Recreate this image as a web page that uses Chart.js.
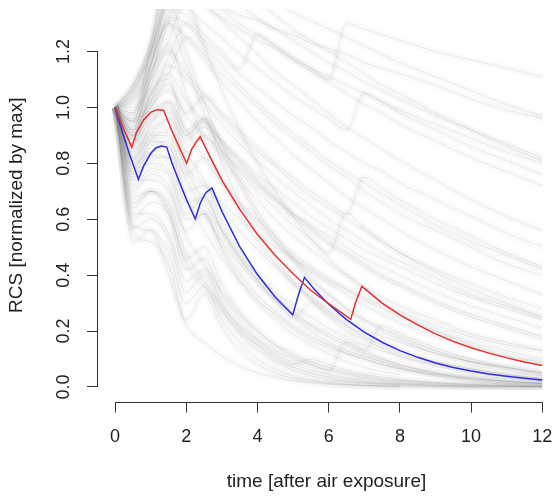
<!DOCTYPE html>
<html>
<head>
<meta charset="utf-8">
<script src="https://cdn.jsdelivr.net/npm/chart.js@4.4.0/dist/chart.umd.min.js"></script>
<style>
  body { margin: 0; background: #fff; }
</style>
</head>
<body>
<canvas id="rcsChart" width="555" height="497"></canvas>
<script>

  // TIME GRID FOR THE GRAY RUNS

var grayTimes = [0,0.5,1,1.5,2,2.5,3,3.5,4,4.5,5,5.5,6,6.5,7,7.5,8,9,10,11,12];

  // slow runs (go off the top)
var gray01 = [1,1.08,1.22,1.45,1.42,1.39,1.36,1.33,1.31,1.28,1.26,1.23,1.21,1.19,1.16,1.14,1.12,1.08,1.03,0.99,0.96];
var gray02 = [1,1.06,1.20,1.38,1.40,1.36,1.32,1.28,1.24,1.21,1.17,1.14,1.11,1.08,1.05,1.02,0.99,0.94,0.89,0.84,0.80];
var gray03 = [1,1.04,1.16,1.34,1.45,1.38,1.31,1.25,1.19,1.13,1.08,1.03,0.98,0.93,0.89,0.85,0.81,0.74,0.67,0.61,0.56];
var gray04 = [1,1.02,1.12,1.30,1.50,1.48,1.42,1.37,1.32,1.28,1.24,1.20,1.16,1.13,1.09,1.06,1.03,0.97,0.92,0.87,0.82];
var gray05 = [1,1.00,1.08,1.24,1.42,1.55,1.50,1.44,1.38,1.33,1.28,1.24,1.20,1.16,1.12,1.08,1.05,0.98,0.92,0.86,0.81];
var gray06 = [1,1.07,1.20,1.40,1.36,1.30,1.25,1.19,1.14,1.09,1.04,1.00,0.96,0.92,1.05,1.02,0.98,0.92,0.86,0.81,0.76];
var gray07 = [1,0.98,1.10,1.32,1.30,1.22,1.15,1.08,1.02,0.96,0.91,0.86,0.81,0.77,0.73,0.69,0.65,0.58,0.52,0.47,0.42];
var gray08 = [1,1.05,1.19,1.36,1.33,1.26,1.20,1.14,1.26,1.22,1.17,1.13,1.09,1.05,1.01,0.98,0.94,0.88,0.82,0.77,0.72];
var gray09 = [1,0.96,1.02,1.18,1.30,1.24,1.18,1.12,1.07,1.02,0.97,0.93,0.88,0.84,0.80,0.77,0.73,0.67,0.61,0.55,0.50];
var gray10 = [1,1.03,1.15,1.42,1.60,1.55,1.50,1.46,1.42,1.38,1.34,1.31,1.28,1.25,1.22,1.19,1.16,1.11,1.06,1.01,0.97];
var gray11 = [1,1.08,1.24,1.50,1.45,1.40,1.35,1.30,1.26,1.22,1.18,1.14,1.10,1.30,1.28,1.26,1.24,1.20,1.17,1.14,1.11];
var gray12 = [1,0.95,1.00,1.12,1.25,1.19,1.12,1.06,1.00,0.94,0.89,0.84,0.79,0.75,0.70,0.66,0.62,0.56,0.50,0.44,0.40];

  // medium runs
var gray13 = [1,0.92,1.02,1.08,0.98,1.04,0.97,0.90,0.84,0.79,0.73,0.68,0.64,0.60,0.56,0.52,0.48,0.42,0.37,0.32,0.28];
var gray14 = [1,0.88,0.98,1.02,0.90,0.96,0.88,0.81,0.74,0.68,0.62,0.57,0.52,0.48,0.44,0.40,0.37,0.31,0.26,0.22,0.18];
var gray15 = [1,0.90,1.05,1.12,1.02,0.95,0.88,0.82,0.76,0.71,0.66,0.61,0.57,0.53,0.49,0.46,0.43,0.37,0.32,0.28,0.24];
var gray16 = [1,0.85,0.92,0.95,0.84,0.90,0.82,0.74,0.67,0.60,0.54,0.49,0.44,0.40,0.36,0.32,0.29,0.24,0.19,0.16,0.13];
var gray17 = [1,0.93,1.10,1.20,1.12,1.05,0.98,0.92,0.86,0.80,0.75,0.70,0.66,0.62,0.75,0.71,0.67,0.60,0.54,0.48,0.43];
var gray18 = [1,0.82,0.88,0.86,0.76,0.82,0.74,0.66,0.60,0.54,0.48,0.43,0.39,0.35,0.31,0.28,0.25,0.20,0.16,0.13,0.10];
var gray19 = [1,0.90,1.00,1.06,0.97,0.90,0.84,0.78,0.72,0.67,0.62,0.58,0.54,0.50,0.46,0.43,0.40,0.34,0.29,0.25,0.21];
var gray20 = [1,0.87,0.95,0.98,0.88,0.93,0.85,0.77,0.70,0.64,0.58,0.53,0.48,0.62,0.57,0.52,0.48,0.41,0.35,0.30,0.25];
var gray21 = [1,0.95,1.15,1.30,1.25,1.17,1.09,1.02,0.95,0.89,0.83,0.78,0.73,0.68,0.64,0.60,0.56,0.49,0.43,0.38,0.33];
var gray22 = [1,0.91,1.04,1.15,1.10,1.02,0.94,0.87,0.81,0.75,0.70,0.65,0.60,0.56,0.52,0.48,0.45,0.39,0.33,0.29,0.25];
var gray23 = [1,0.84,0.90,0.90,0.79,0.72,0.66,0.60,0.55,0.50,0.46,0.42,0.38,0.35,0.32,0.29,0.27,0.22,0.18,0.15,0.13];
var gray24 = [1,0.89,0.97,1.00,0.90,0.95,0.87,0.80,0.73,0.67,0.61,0.56,0.51,0.47,0.43,0.39,0.36,0.30,0.25,0.21,0.17];

  // quicker runs
var gray25 = [1,0.80,0.84,0.86,0.70,0.72,0.60,0.49,0.40,0.33,0.27,0.22,0.18,0.15,0.12,0.10,0.08,0.05,0.035,0.02,0.015];
var gray26 = [1,0.78,0.88,0.92,0.78,0.66,0.56,0.47,0.40,0.34,0.29,0.25,0.21,0.18,0.15,0.13,0.11,0.08,0.06,0.04,0.03];
var gray27 = [1,0.76,0.80,0.78,0.62,0.68,0.56,0.46,0.38,0.31,0.25,0.30,0.25,0.20,0.17,0.14,0.11,0.075,0.05,0.035,0.023];
var gray28 = [1,0.81,0.90,0.96,0.84,0.74,0.64,0.56,0.49,0.43,0.37,0.32,0.28,0.24,0.21,0.18,0.16,0.12,0.09,0.07,0.05];
var gray29 = [1,0.74,0.74,0.70,0.56,0.62,0.50,0.41,0.33,0.27,0.22,0.18,0.15,0.12,0.10,0.08,0.065,0.04,0.025,0.015,0.01];
var gray30 = [1,0.79,0.86,0.88,0.74,0.62,0.52,0.44,0.37,0.31,0.26,0.22,0.19,0.16,0.13,0.22,0.19,0.14,0.10,0.07,0.05];
var gray31 = [1,0.77,0.83,0.82,0.67,0.56,0.46,0.38,0.31,0.26,0.21,0.17,0.14,0.12,0.10,0.08,0.065,0.045,0.03,0.02,0.013];
var gray32 = [1,0.82,0.94,1.02,0.92,0.82,0.73,0.65,0.58,0.52,0.46,0.41,0.37,0.33,0.29,0.26,0.23,0.18,0.14,0.11,0.09];

  // fast runs (lower fan)
var gray33 = [1,0.62,0.62,0.55,0.38,0.42,0.30,0.21,0.15,0.10,0.07,0.05,0.035,0.025,0.018,0.012,0.009,0.005,0.003,0.002,0.001];
var gray34 = [1,0.58,0.56,0.48,0.30,0.36,0.24,0.16,0.10,0.065,0.04,0.025,0.016,0.01,0.006,0.004,0.003,null,null,null,null];
var gray35 = [1,0.66,0.70,0.64,0.46,0.50,0.37,0.27,0.20,0.15,0.11,0.08,0.06,0.045,0.033,0.025,0.018,0.01,0.006,0.003,0.002];
var gray36 = [1,0.55,0.52,0.44,0.24,0.33,0.21,0.13,0.08,0.05,0.03,0.02,0.012,0.008,0.005,0.003,0.002,null,null,null,null];
var gray37 = [1,0.70,0.76,0.72,0.54,0.44,0.34,0.26,0.20,0.15,0.12,0.09,0.07,0.05,0.04,0.03,0.024,0.015,0.009,0.006,0.004];
var gray38 = [1,0.52,0.56,0.40,0.22,0.16,0.11,0.075,0.05,0.035,0.022,0.015,0.01,0.007,0.005,0.003,0.002,0.001,0,0,0];
var gray39 = [1,0.60,0.66,0.62,0.44,0.36,0.27,0.20,0.15,0.11,0.08,0.10,0.08,0.06,0.045,0.035,0.026,0.015,0.008,0.005,0.003];
var gray40 = [1,0.68,0.70,0.62,0.42,0.46,0.33,0.24,0.17,0.12,0.085,0.06,0.045,0.032,0.023,0.016,0.012,0.006,0.003,0.002,0.001];
var gray41 = [1,0.72,0.78,0.76,0.60,0.62,0.49,0.38,0.30,0.24,0.19,0.15,0.12,0.09,0.07,0.055,0.045,null,null,null,null];
var gray42 = [1,0.64,0.70,0.66,0.48,0.38,0.29,0.22,0.17,0.13,0.10,0.08,0.06,0.16,0.13,0.10,0.08,0.05,0.03,0.02,0.012];
var gray43 = [1,0.57,0.60,0.53,0.34,0.40,0.28,0.19,0.13,0.09,0.06,0.04,0.028,0.02,0.014,0.01,0.007,0.004,0.002,0.001,0.001];
var gray44 = [1,0.75,0.82,0.82,0.66,0.68,0.56,0.46,0.38,0.31,0.25,0.20,0.16,0.13,0.11,0.09,0.07,0.045,0.03,0.02,0.013];

  // high peak, then quick fall
var gray45 = [1,0.90,1.12,1.22,1.05,0.88,0.74,0.62,0.52,0.44,0.37,0.31,0.26,0.22,0.18,0.15,0.13,0.09,0.065,0.045,0.03];
var gray46 = [1,0.95,1.20,1.38,1.20,1.02,0.87,0.74,0.63,0.54,0.46,0.39,0.33,0.28,0.24,0.21,0.18,0.13,0.09,0.07,0.05];
var gray47 = [1,0.86,1.05,1.10,0.92,0.96,0.80,0.66,0.55,0.46,0.38,0.32,0.27,0.22,0.19,0.16,0.13,0.09,0.065,0.045,0.03];
var gray48 = [1,0.98,1.22,1.50,1.40,1.22,1.06,0.92,0.80,0.70,0.61,0.53,0.46,0.40,0.35,0.30,0.26,0.20,0.15,0.11,0.085];
var gray49 = [1,0.92,1.15,1.30,1.15,0.98,0.84,0.72,0.61,0.52,0.45,0.38,0.33,0.28,0.24,0.20,0.17,0.12,0.09,0.065,0.045];

var grayRuns = [gray01,gray02,gray03,gray04,gray05,gray06,gray07,gray08,gray09,gray10,
  gray11,gray12,gray13,gray14,gray15,gray16,gray17,gray18,gray19,gray20,
  gray21,gray22,gray23,gray24,gray25,gray26,gray27,gray28,gray29,gray30,
  gray31,gray32,gray33,gray34,gray35,gray36,gray37,gray38,gray39,gray40,
  gray41,gray42,gray43,gray44,gray45,gray46,gray47,gray48,gray49];

  // RED RUN

var redTimes  = [0,0.25,0.47,0.6,0.8,1.0,1.17,1.36,1.6,1.8,2.01,2.15,2.3,2.39,2.6,3.0,3.5,4.0,4.5,5.0,5.5,6.0,6.3,6.62,6.75,6.93,7.5,8.0,8.5,9.0,9.5,10,10.5,11,11.5,12];
var redValues = [1.00,0.92,0.858,0.91,0.955,0.982,0.992,0.99,0.915,0.858,0.80,0.85,0.88,0.895,0.84,0.74,0.635,0.545,0.47,0.405,0.345,0.298,0.271,0.242,0.30,0.36,0.30,0.258,0.222,0.19,0.163,0.14,0.121,0.104,0.089,0.077];

  // BLUE RUN

var blueTimes  = [0,0.2,0.4,0.655,0.8,1.0,1.15,1.3,1.45,1.6,1.8,2.0,2.25,2.4,2.55,2.72,3.0,3.5,4.0,4.5,4.99,5.15,5.32,5.6,6.0,6.5,7.0,7.5,8.0,8.5,9.0,9.5,10,10.5,11,11.5,12];
var blueValues = [1,0.914,0.834,0.743,0.79,0.835,0.856,0.862,0.858,0.80,0.735,0.672,0.601,0.66,0.695,0.712,0.628,0.502,0.402,0.321,0.258,0.33,0.392,0.349,0.296,0.241,0.196,0.16,0.13,0.106,0.086,0.07,0.057,0.046,0.038,0.031,0.025];

  // AXES

var xTicks = [0,2,4,6,8,10,12];
var yTicks = [0,0.2,0.4,0.6,0.8,1.0,1.2];
var yTickLabels = ["0.0","0.2","0.4","0.6","0.8","1.0","1.2"];

var fontFamily = '"Liberation Sans", Arial, Helvetica, sans-serif';
var inkColor = '#222';

function toPoints(times, values) {
  return times.map((t, i) => ({ x: t, y: values[i] }));
}

var datasets = [];

datasets.push({
  data: toPoints(redTimes, redValues),
  borderColor: 'rgb(230,48,48)',
  borderWidth: 1.5,
  pointRadius: 0,
  tension: 0,
  order: 0
});

datasets.push({
  data: toPoints(blueTimes, blueValues),
  borderColor: 'rgb(46,46,224)',
  borderWidth: 1.5,
  pointRadius: 0,
  tension: 0,
  order: 0
});

// each gray run: a thin line plus a wide faint stroke under it (gives the haze)
grayRuns.forEach((run) => {
  datasets.push({
    data: toPoints(grayTimes, run),
    borderColor: 'rgba(90,90,90,0.11)',
    borderWidth: 1,
    pointRadius: 0,
    cubicInterpolationMode: 'monotone',
    spanGaps: false,
    order: 1
  });
  datasets.push({
    data: toPoints(grayTimes, run),
    borderColor: 'rgba(120,120,120,0.035)',
    borderWidth: 7,
    pointRadius: 0,
    cubicInterpolationMode: 'monotone',
    spanGaps: false,
    order: 2
  });
});

// R style axes: line only from first to last tick, rotated y labels
const rAxes = {
  id: 'rAxes',
  afterDraw(chart) {
    const ctx = chart.ctx;
    const xs = chart.scales.x;
    const ys = chart.scales.y;
    const area = chart.chartArea;
    ctx.save();
    ctx.strokeStyle = '#333';
    ctx.lineWidth = 1;
    ctx.beginPath();
    const ax = Math.round(area.left) - 0.5;
    ctx.moveTo(ax, ys.getPixelForValue(yTicks[0]));
    ctx.lineTo(ax, ys.getPixelForValue(yTicks[yTicks.length - 1]));
    const ay = Math.round(area.bottom) + 0.5;
    ctx.moveTo(xs.getPixelForValue(xTicks[0]), ay);
    ctx.lineTo(xs.getPixelForValue(xTicks[xTicks.length - 1]), ay);
    ctx.stroke();

    ctx.fillStyle = inkColor;
    ctx.font = '18px ' + fontFamily;
    ctx.textAlign = 'center';
    ctx.textBaseline = 'middle';
    yTicks.forEach((v, i) => {
      ctx.save();
      ctx.translate(64, ys.getPixelForValue(v));
      ctx.rotate(-Math.PI / 2);
      ctx.fillText(yTickLabels[i], 0, 0);
      ctx.restore();
    });
    ctx.restore();
  }
};

const rcsChart = new Chart('rcsChart', {
  type: 'line',
  data: { datasets: datasets },
  options: {
    responsive: false,
    animation: false,
    devicePixelRatio: 1,
    layout: { padding: { top: 9, right: 0, bottom: 0, left: 0 } },
    plugins: {
      legend: { display: false },
      tooltip: { enabled: false }
    },
    scales: {
      x: {
        type: 'linear',
        min: -0.48,
        max: 12.357,
        afterBuildTicks: (s) => { s.ticks = xTicks.map((v) => ({ value: v })); },
        afterFit: (s) => { s.height = 95.5; s.paddingLeft = 0; s.paddingRight = 0; },
        border: { display: false },
        grid: { drawOnChartArea: false, drawTicks: true, tickLength: 11, tickColor: '#333', lineWidth: 1 },
        ticks: {
          autoSkip: false,
          maxRotation: 0,
          padding: 14,
          color: inkColor,
          font: { family: fontFamily, size: 18 },
          callback: (v) => String(v)
        },
        title: {
          display: true,
          text: 'time [after air exposure]',
          color: inkColor,
          font: { family: fontFamily, size: 19 },
          padding: { top: 0, bottom: 4 }
        }
      },
      y: {
        min: -0.052,
        max: 1.352,
        afterBuildTicks: (s) => { s.ticks = yTicks.map((v) => ({ value: v })); },
        afterFit: (s) => { s.width = 98; s.paddingTop = 0; s.paddingBottom = 0; },
        border: { display: false },
        grid: { drawOnChartArea: false, drawTicks: true, tickLength: 11, tickColor: '#333', lineWidth: 1 },
        ticks: { display: false },
        title: {
          display: true,
          text: 'RCS [normalized by max]',
          color: inkColor,
          font: { family: fontFamily, size: 19 },
          padding: { top: 5, bottom: 0 }
        }
      }
    }
  },
  plugins: [rAxes]
});
</script>
</body>
</html>
